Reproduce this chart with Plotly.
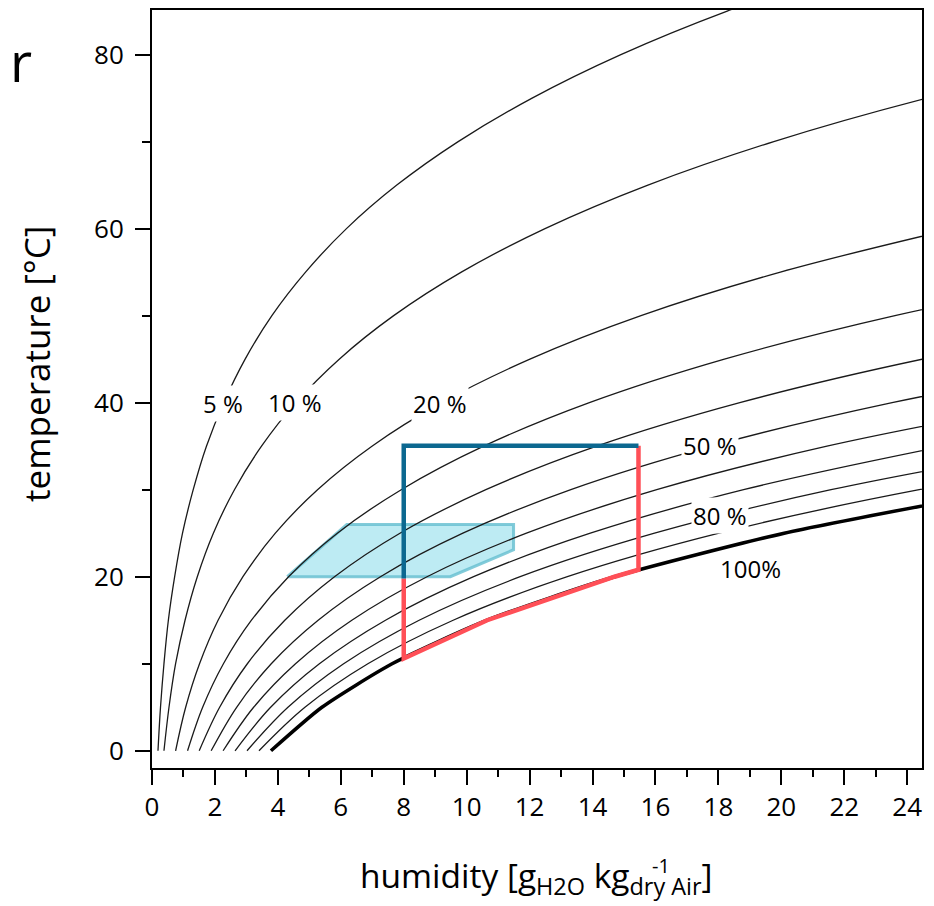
import plotly.graph_objects as go

# ---------------- data ----------------
temperature_c = [0, 5, 10, 15, 20, 25, 30, 35, 40, 45, 50, 55, 60, 65, 70, 75, 80, 85, 90]

# humidity [g/kg] of each relative-humidity line at the temperatures above
rh_5 = [0.19, 0.27, 0.38, 0.52, 0.72, 0.97, 1.31, 1.73, 2.28, 2.96, 3.81, 4.88, 6.18, 7.78, 9.73, 12.08, 14.90, 18.28, 22.31]
rh_10 = [0.38, 0.54, 0.75, 1.05, 1.44, 1.95, 2.62, 3.48, 4.57, 5.95, 7.68, 9.83, 12.49, 15.76, 19.76, 24.63, 30.53]
rh_20 = [0.75, 1.07, 1.51, 2.10, 2.89, 3.92, 5.26, 6.99, 9.20, 12.01, 15.54, 19.97, 25.49]
rh_30 = [1.13, 1.61, 2.27, 3.16, 4.34, 5.89, 7.92, 10.54, 13.90, 18.19, 23.61, 30.45]
rh_40 = [1.50, 2.15, 3.03, 4.22, 5.80, 7.88, 10.61, 14.13, 18.68, 24.49, 31.88]
rh_50 = [1.88, 2.69, 3.79, 5.28, 7.26, 9.88, 13.31, 17.77, 23.52, 30.91]
rh_60 = [2.26, 3.23, 4.56, 6.35, 8.74, 11.90, 16.04, 21.45, 28.44]
rh_70 = [2.64, 3.77, 5.32, 7.42, 10.22, 13.93, 18.80, 25.17]
rh_80 = [3.02, 4.32, 6.09, 8.49, 11.70, 15.97, 21.58, 28.93]
rh_90 = [3.40, 4.86, 6.86, 9.57, 13.20, 18.02, 24.38, 32.73]
rh_100 = [3.78, 5.40, 7.63, 10.65, 14.70, 20.09, 27.21]

thin_lines = [rh_5, rh_10, rh_20, rh_30, rh_40, rh_50, rh_60, rh_70, rh_80, rh_90]

# comfort zone polygon
zone_humidity = [4.30, 6.19, 11.49, 11.49, 9.48, 4.30]
zone_temperature = [20.0, 26.0, 26.0, 23.1, 20.0, 20.0]

# process paths
blue_humidity = [8.0, 8.0, 15.46]
blue_temperature = [19.8, 35.05, 35.05]
red_humidity = [15.46, 15.46, 14.70, 10.65, 8.0, 8.0]
red_temperature = [35.05, 20.8, 20.0, 15.0, 10.6, 19.8]

# curve labels
label_text = ["5 %", "10 %", "20 %", "50 %", "80 %", "100%"]
label_humidity = [2.25, 4.55, 9.16, 17.74, 18.04, 19.01]
label_temperature = [39.9, 40.0, 39.9, 35.1, 27.0, 21.0]
label_masks = [True, True, True, True, True, False]

x_ticks = list(range(0, 25, 2))
y_ticks = [0, 20, 40, 60, 80]

FONT = "Open Sans"

fig = go.Figure()

fig.add_trace(go.Scatter(
    x=zone_humidity, y=zone_temperature, mode="lines", fill="toself",
    fillcolor="rgb(189,235,243)",
    line=dict(color="rgba(100,190,208,0.8)", width=3),
    hoverinfo="skip", showlegend=False))

for hum in thin_lines:
    fig.add_trace(go.Scatter(
        x=hum, y=temperature_c[:len(hum)], mode="lines",
        line=dict(color="#1a1a1a", width=1.3, shape="spline"),
        showlegend=False))

fig.add_trace(go.Scatter(
    x=rh_100, y=temperature_c[:len(rh_100)], mode="lines",
    line=dict(color="black", width=3.5, shape="spline", smoothing=0.6),
    showlegend=False))

fig.add_trace(go.Scatter(
    x=red_humidity, y=red_temperature, mode="lines",
    line=dict(color="#ff4f57", width=4.5), showlegend=False))
fig.add_trace(go.Scatter(
    x=blue_humidity, y=blue_temperature, mode="lines",
    line=dict(color="#0c6890", width=4.5), showlegend=False))

annotations = []
for t, hx, ty, m in zip(label_text, label_humidity, label_temperature, label_masks):
    annotations.append(dict(
        x=hx, y=ty, xref="x", yref="y", text=t, showarrow=False,
        xanchor="center", yanchor="middle",
        font=dict(family=FONT, size=24, color="black"),
        bgcolor="white" if m else "rgba(0,0,0,0)", borderpad=1))

annotations += [
    dict(x=-0.1494, y=0.533, xref="paper", yref="paper", text="temperature [°C]",
         xanchor="center", yanchor="middle",
         textangle=-90, showarrow=False, font=dict(family=FONT, size=35, color="black")),
    dict(x=0.4995, y=-0.1795, xref="paper", yref="paper",
         xanchor="center", yanchor="bottom",
         text="humidity [g<sub>H2O</sub> kg<sub>dry Air</sub>]",
         showarrow=False, font=dict(family=FONT, size=33.5, color="black")),
    dict(x=0.661, y=-0.1485, xref="paper", yref="paper", text="-1",
         xanchor="center", yanchor="bottom",
         showarrow=False, font=dict(family=FONT, size=20, color="black")),
    dict(x=-0.187, y=0.933, xref="paper", yref="paper", text="r",
         xanchor="left", yanchor="middle",
         showarrow=False, font=dict(family=FONT, size=54, color="black")),
]

axis_common = dict(
    showline=True, linewidth=2, linecolor="black", mirror=True,
    ticks="outside", ticklen=15, tickwidth=2, tickcolor="black",
    showgrid=False, zeroline=False,
    tickfont=dict(family=FONT, size=26, color="black"),
)

fig.update_layout(
    width=926, height=898,
    margin=dict(l=144, r=12, t=0, b=138),
    paper_bgcolor="white", plot_bgcolor="white",
    showlegend=False,
    annotations=annotations,
    xaxis=dict(range=[0, 24.47], tickvals=x_ticks,
               minor=dict(dtick=1, ticklen=7, tickwidth=2, tickcolor="black", ticks="outside"),
               **axis_common),
    yaxis=dict(range=[-1.98, 85.12], tickvals=y_ticks, ticklabelstandoff=6,
               minor=dict(dtick=10, ticklen=8, tickwidth=2, tickcolor="black", ticks="outside"),
               **axis_common),
)

fig.write_html("out.html")
